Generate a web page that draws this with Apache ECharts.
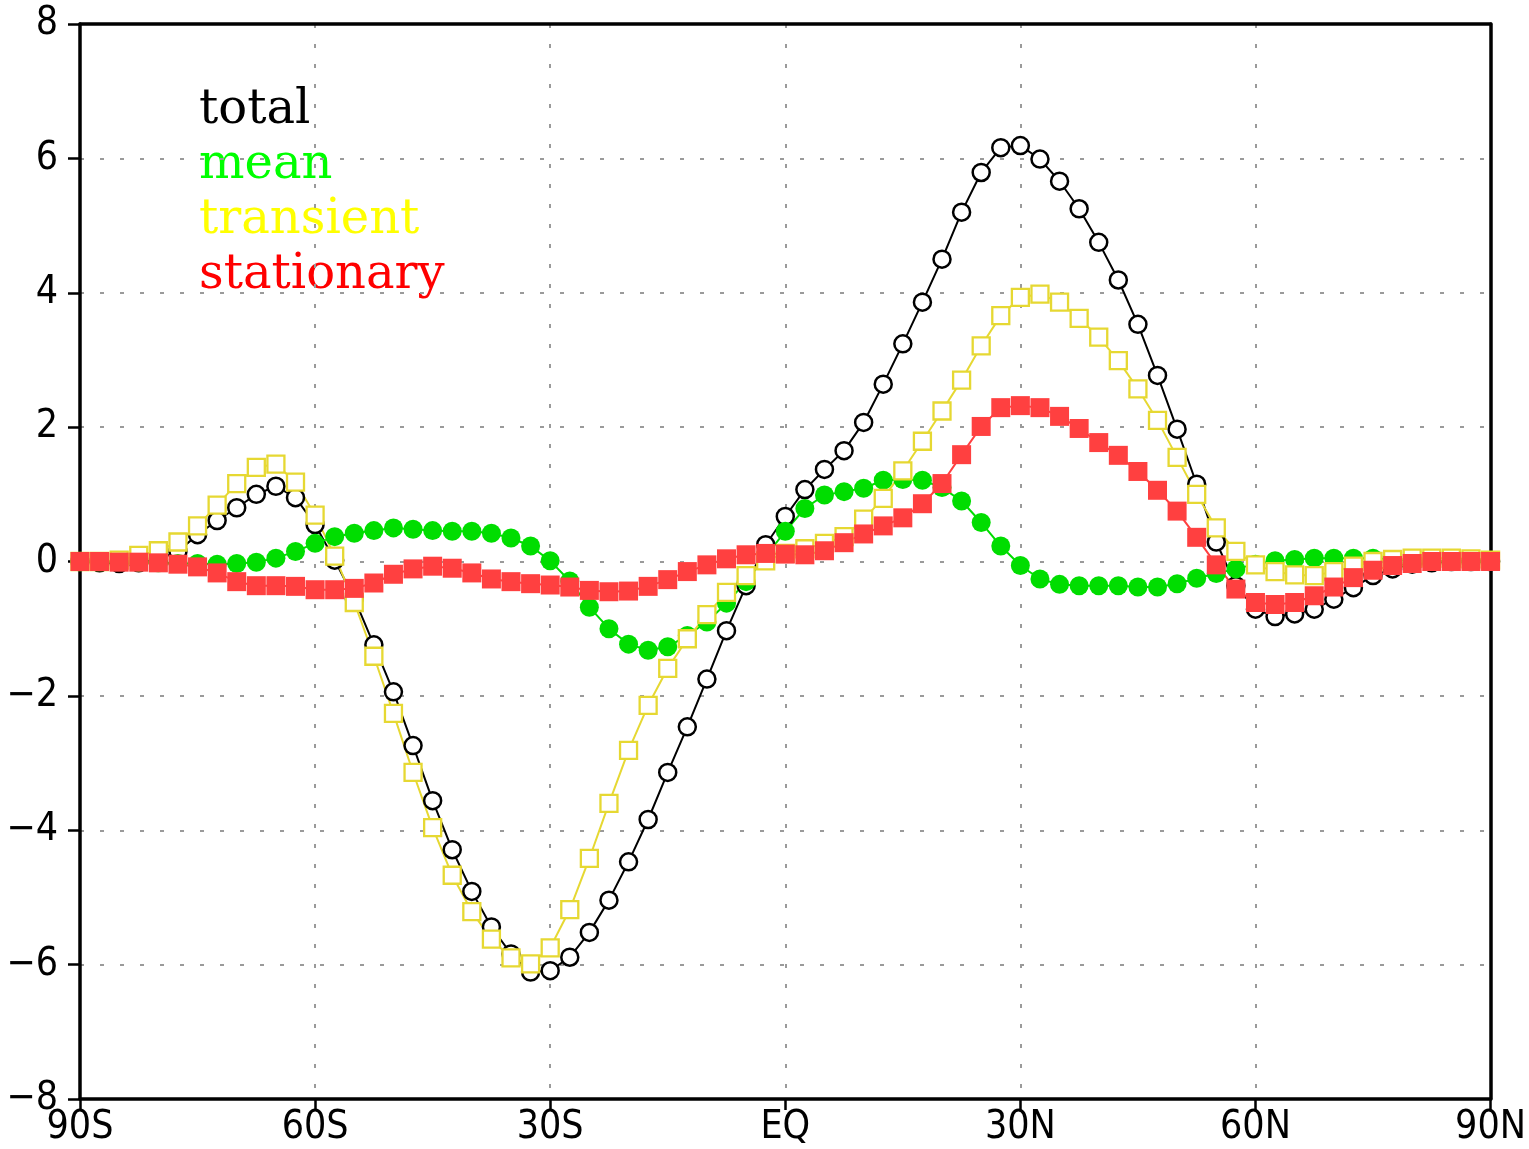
<!DOCTYPE html>
<html>
<head>
<meta charset="utf-8">
<script src="https://cdn.jsdelivr.net/npm/echarts@6/dist/echarts.min.js"></script>
<style>
  html, body { margin: 0; padding: 0; background: #fff; }
  #chart { width: 1529px; height: 1149px; }
</style>
</head>
<body>
<div id="chart"></div>
<script>
const lats = [
  -90, -87.5, -85, -82.5, -80, -77.5, -75, -72.5, -70, -67.5, -65, -62.5,
  -60, -57.5, -55, -52.5, -50, -47.5, -45, -42.5, -40, -37.5, -35, -32.5,
  -30, -27.5, -25, -22.5, -20, -17.5, -15, -12.5, -10, -7.5, -5, -2.5,
  0, 2.5, 5, 7.5, 10, 12.5, 15, 17.5, 20, 22.5, 25, 27.5,
  30, 32.5, 35, 37.5, 40, 42.5, 45, 47.5, 50, 52.5, 55, 57.5,
  60, 62.5, 65, 67.5, 70, 72.5, 75, 77.5, 80, 82.5, 85, 87.5, 90
];

const total = [
  0, -0.02, -0.03, -0.02, 0.03, 0.15, 0.4, 0.61, 0.8, 1.0, 1.12, 0.95,
  0.55, 0.02, -0.55, -1.24, -1.94, -2.74, -3.56, -4.29, -4.91, -5.44, -5.84, -6.11,
  -6.09, -5.89, -5.52, -5.04, -4.47, -3.84, -3.14, -2.46, -1.75, -1.03, -0.36, 0.25,
  0.67, 1.07, 1.37, 1.65, 2.07, 2.64, 3.24, 3.86, 4.5, 5.2, 5.79, 6.16,
  6.19, 5.99, 5.66, 5.25, 4.75, 4.19, 3.53, 2.77, 1.97, 1.15, 0.29, -0.36,
  -0.71, -0.82, -0.78, -0.71, -0.56, -0.39, -0.21, -0.11, -0.04, -0.02, 0, 0, 0
];

const mean = [
  0, 0, 0, -0.01, -0.02, -0.03, -0.03, -0.04, -0.03, -0.01, 0.05, 0.15,
  0.27, 0.37, 0.42, 0.46, 0.5, 0.48, 0.46, 0.45, 0.45, 0.42, 0.35, 0.23,
  0.01, -0.29, -0.68, -1.0, -1.23, -1.32, -1.27, -1.1, -0.9, -0.62, -0.3, 0.08,
  0.45, 0.79, 0.99, 1.04, 1.09, 1.21, 1.22, 1.21, 1.1, 0.9, 0.58, 0.23,
  -0.06, -0.26, -0.34, -0.36, -0.36, -0.36, -0.38, -0.38, -0.33, -0.25, -0.18, -0.11,
  -0.04, 0.01, 0.03, 0.05, 0.05, 0.05, 0.05, 0.03, 0.02, 0.01, 0, 0, 0
];

const transient = [
  0, 0, 0.02, 0.09, 0.16, 0.29, 0.53, 0.84, 1.16, 1.4, 1.45, 1.18,
  0.69, 0.08, -0.61, -1.41, -2.26, -3.14, -3.96, -4.67, -5.21, -5.62, -5.9, -5.99,
  -5.75, -5.18, -4.42, -3.6, -2.81, -2.14, -1.59, -1.15, -0.79, -0.46, -0.21, 0.01,
  0.12, 0.19, 0.27, 0.37, 0.63, 0.94, 1.35, 1.79, 2.24, 2.7, 3.21, 3.66,
  3.93, 3.98, 3.86, 3.62, 3.34, 2.99, 2.57, 2.1, 1.55, 1.0, 0.5, 0.15,
  -0.05, -0.15, -0.2, -0.21, -0.15, -0.07, 0, 0.03, 0.05, 0.05, 0.05, 0.04, 0.02
];

const stationary = [
  0, 0, -0.01, -0.01, -0.02, -0.04, -0.08, -0.17, -0.3, -0.36, -0.36, -0.37,
  -0.42, -0.42, -0.4, -0.32, -0.19, -0.11, -0.07, -0.1, -0.17, -0.26, -0.3, -0.33,
  -0.35, -0.38, -0.43, -0.45, -0.44, -0.37, -0.27, -0.15, -0.05, 0.04, 0.1, 0.12,
  0.11, 0.1, 0.16, 0.28, 0.41, 0.53, 0.65, 0.86, 1.16, 1.59, 2.01, 2.29,
  2.32, 2.29, 2.16, 1.98, 1.77, 1.58, 1.34, 1.06, 0.75, 0.36, -0.05, -0.41,
  -0.61, -0.64, -0.61, -0.51, -0.38, -0.24, -0.13, -0.06, -0.03, 0, 0, 0, 0
];

const xTickLabels = { '-90': '90S', '-60': '60S', '-30': '30S', '0': 'EQ', '30': '30N', '60': '60N', '90': '90N' };

const legendItems = [
  { text: 'total', color: '#000000' },
  { text: 'mean', color: '#00ff00' },
  { text: 'transient', color: '#ffff00' },
  { text: 'stationary', color: '#ff0000' }
];

const LABEL_FONT = '"Liberation Sans Narrow", "DejaVu Sans Condensed", "Liberation Sans", sans-serif';

function pairs(values) {
  return lats.map((lat, i) => [lat, values[i]]);
}

const chart = echarts.init(document.getElementById('chart'));

const gridLine = { show: true, lineStyle: { color: '#9a9a9a', width: 2, type: [4, 16] } };
const frameLine = { show: true, onZero: false, lineStyle: { color: '#000', width: 3.5 } };

// plain frame axes for the top and right edges
function frameAxis(position, min, max) {
  return {
    type: 'value', position: position, min: min, max: max,
    axisLine: frameLine,
    axisTick: { show: false }, axisLabel: { show: false }, splitLine: { show: false }
  };
}

const option = {
  animation: false,
  backgroundColor: '#fff',
  grid: { left: 80, top: 24, width: 1415, height: 1075 },
  xAxis: [
    {
      type: 'value',
      min: -90, max: 90, interval: 30,
      axisLine: frameLine,
      axisTick: { show: true, length: 11, lineStyle: { color: '#000', width: 2.5 } },
      splitLine: gridLine,
      axisLabel: {
        color: '#000', fontSize: 39, fontFamily: LABEL_FONT, margin: 9,
        formatter: v => xTickLabels[String(v)] || ''
      }
    },
    frameAxis('top', -90, 90)
  ],
  yAxis: [
    {
      type: 'value',
      min: -8, max: 8, interval: 2,
      axisLine: frameLine,
      axisTick: { show: true, length: 12, lineStyle: { color: '#000', width: 2.5 } },
      splitLine: gridLine,
      axisLabel: {
        color: '#000', fontSize: 39, fontFamily: LABEL_FONT, margin: 22,
        formatter: v => (v < 0 ? '\u2212' + Math.abs(v) : String(v))
      }
    },
    frameAxis('right', -8, 8)
  ],
  graphic: legendItems.map((item, i) => ({
    type: 'text',
    left: 199,
    top: 87 + i * 55,
    style: {
      text: item.text,
      fill: item.color,
      font: '48px "DejaVu Serif", serif'
    }
  })),
  series: [
    {
      name: 'total', type: 'line', data: pairs(total),
      symbol: 'circle', symbolSize: 17,
      lineStyle: { color: '#000', width: 2 },
      itemStyle: { color: '#fff', borderColor: '#000', borderWidth: 2.5 }
    },
    {
      name: 'mean', type: 'line', data: pairs(mean),
      symbol: 'circle', symbolSize: 19,
      lineStyle: { color: '#00dd00', width: 2 },
      itemStyle: { color: '#00dd00', borderWidth: 0 }
    },
    {
      name: 'transient', type: 'line', data: pairs(transient),
      symbol: 'rect', symbolSize: 17,
      lineStyle: { color: '#e6d832', width: 2 },
      itemStyle: { color: '#fff', borderColor: '#e6d832', borderWidth: 2.3 }
    },
    {
      name: 'stationary', type: 'line', data: pairs(stationary),
      symbol: 'rect', symbolSize: 19,
      lineStyle: { color: '#ff4040', width: 2 },
      itemStyle: { color: '#ff4040', borderWidth: 0 }
    }
  ]
};

chart.setOption(option);
</script>
</body>
</html>
